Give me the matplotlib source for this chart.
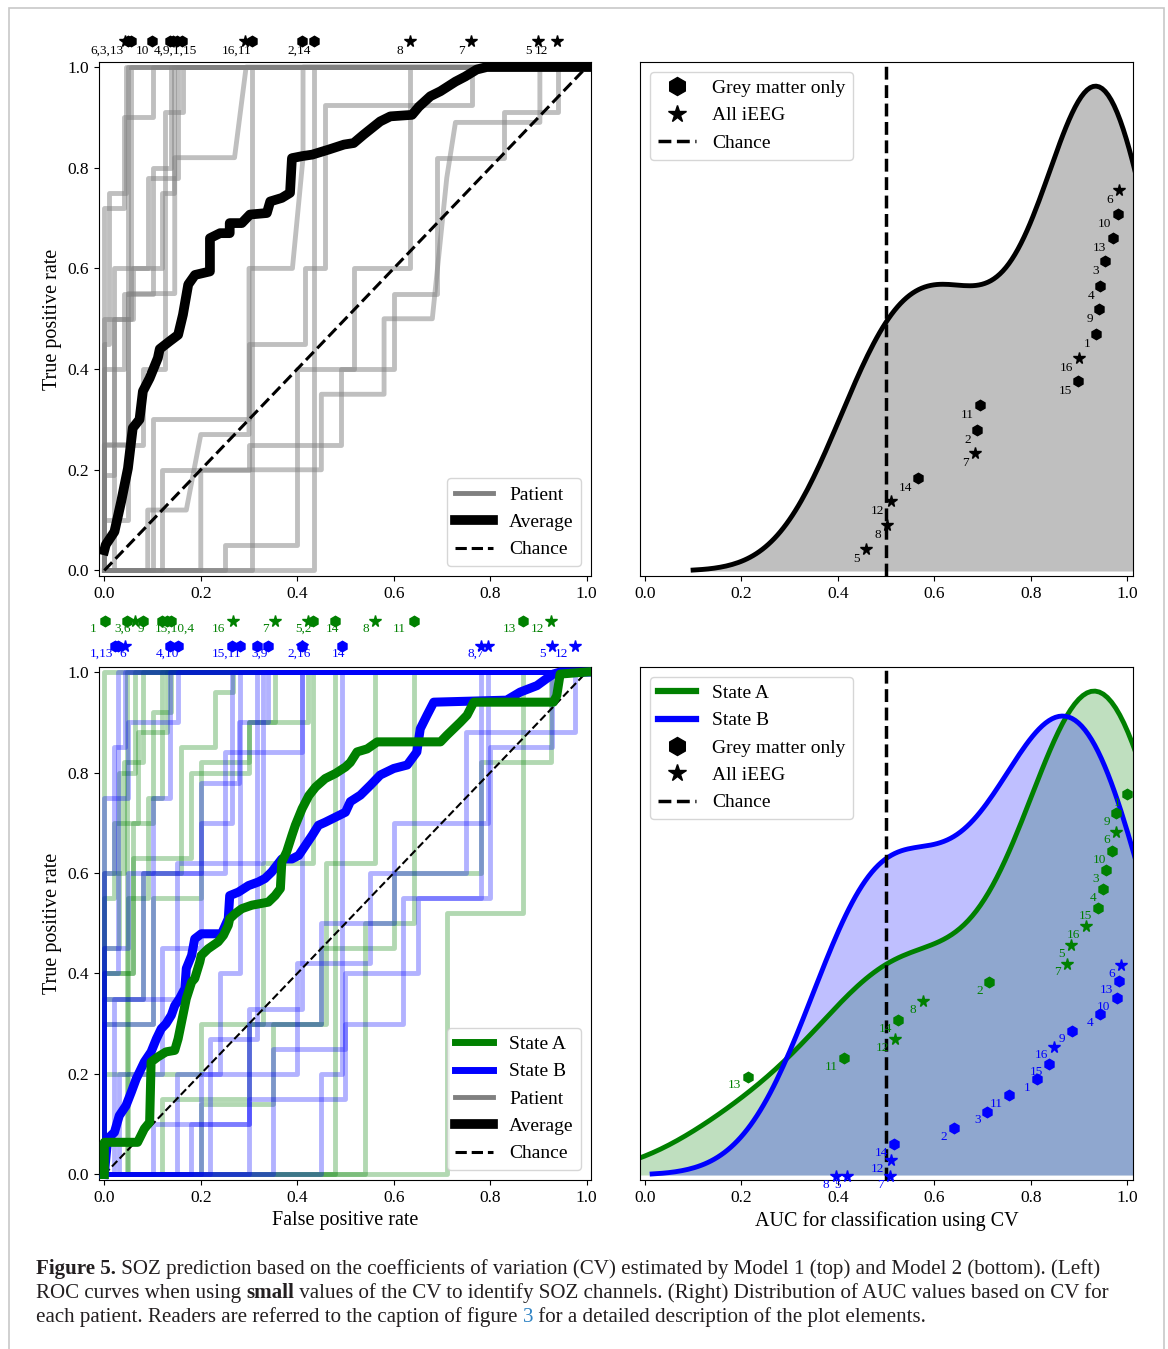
import matplotlib

matplotlib.use("Agg")

import matplotlib.pyplot as plt
import numpy as np
from matplotlib.lines import Line2D
from matplotlib.patches import Rectangle

plt.rcParams["font.family"] = ["Liberation Serif", "DejaVu Serif"]

PATIENTS = list(range(1, 17))
STAR_PATIENTS = [5, 6, 7, 8, 12, 16]  # "All iEEG"; the rest are "Grey matter only"

# ---------------- Model 1 (top row) ----------------
M1_AUC = [0.936, 0.689, 0.954, 0.944, 0.458, 0.983, 0.684, 0.502,
          0.942, 0.980, 0.694, 0.510, 0.970, 0.567, 0.899, 0.901]
M1_LANE = [0.471, 0.285, 0.613, 0.565, 0.053, 0.751, 0.239, 0.100,
           0.519, 0.705, 0.332, 0.146, 0.658, 0.191, 0.379, 0.425]
M1_FULL_FPR = [0.150, 0.410, 0.049, 0.136, 0.900, 0.043, 0.761, 0.634,
               0.142, 0.099, 0.306, 0.939, 0.055, 0.434, 0.161, 0.292]
M1_GROUPS = ["6,3,13", "10", "4,9,1,15", "16,11", "2,14", "8", "7", "5", "12"]
M1_GROUP_X = [0.040, 0.094, 0.193, 0.305, 0.428, 0.619, 0.748, 0.887, 0.920]

M1_AVG_FPR = [0.0, 0.003, 0.021, 0.035, 0.049, 0.059, 0.073, 0.08, 0.094, 0.111,
              0.115, 0.135, 0.153, 0.163, 0.174, 0.188, 0.219, 0.219, 0.24, 0.26,
              0.26, 0.285, 0.302, 0.337, 0.344, 0.368, 0.385, 0.389, 0.41, 0.431,
              0.465, 0.497, 0.517, 0.538, 0.572, 0.593, 0.638, 0.652, 0.676, 0.697,
              0.728, 0.748, 0.772, 0.793, 1.0]
M1_AVG_TPR = [0.04, 0.051, 0.077, 0.137, 0.203, 0.283, 0.30, 0.356, 0.382, 0.422,
              0.44, 0.455, 0.468, 0.508, 0.568, 0.587, 0.594, 0.66, 0.67, 0.67,
              0.69, 0.69, 0.707, 0.71, 0.733, 0.74, 0.75, 0.819, 0.823, 0.826,
              0.836, 0.846, 0.849, 0.866, 0.892, 0.902, 0.905, 0.921, 0.942, 0.952,
              0.971, 0.981, 0.995, 1.0, 1.0]

M1_ROC_FPR = [
    [0, 0, 0.02, 0.02, 0.09, 0.09, 0.153, 0.153, 1],
    [0, 0.09, 0.09, 0.17, 0.2, 0.3, 0.3, 0.39, 0.412, 0.412, 1],
    [0, 0, 0.05, 0.05, 1],
    [0, 0, 0.04, 0.04, 0.1, 0.1, 0.139, 0.139, 1],
    [0, 0.2, 0.2, 0.45, 0.45, 0.58, 0.58, 0.68, 0.71, 0.728, 0.903, 0.903, 1],
    [0, 0, 0.01, 0.01, 0.044, 0.044, 1],
    [0, 0.1, 0.1, 0.3, 0.3, 0.417, 0.417, 0.458, 0.458, 0.762, 0.762, 1],
    [0, 0.25, 0.25, 0.4, 0.4, 0.517, 0.517, 0.634, 0.634, 1],
    [0, 0, 0.06, 0.06, 0.12, 0.12, 0.145, 0.145, 1],
    [0, 0, 0.04, 0.04, 0.101, 0.101, 1],
    [0, 0.306, 0.306, 1],
    [0, 0.12, 0.12, 0.3, 0.3, 0.49, 0.49, 0.6, 0.6, 0.69, 0.69, 0.828, 0.828, 0.941, 0.941, 1],
    [0, 0, 0.02, 0.02, 0.056, 0.056, 1],
    [0, 0.434, 0.434, 1],
    [0, 0.02, 0.02, 0.08, 0.08, 0.125, 0.125, 0.164, 0.164, 1],
    [0, 0, 0.05, 0.05, 0.146, 0.146, 0.27, 0.294, 1],
]
M1_ROC_TPR = [
    [0, 0.19, 0.19, 0.6, 0.6, 0.78, 0.78, 1, 1],
    [0, 0, 0.12, 0.12, 0.27, 0.27, 0.6, 0.6, 0.82, 1, 1],
    [0, 0.1, 0.1, 1, 1],
    [0, 0.4, 0.4, 0.55, 0.55, 0.8, 0.8, 1, 1],
    [0, 0, 0.2, 0.2, 0.35, 0.35, 0.5, 0.5, 0.78, 0.89, 0.89, 1, 1],
    [0, 0.45, 0.45, 0.75, 0.75, 1, 1],
    [0, 0, 0.3, 0.3, 0.45, 0.45, 0.6, 0.6, 0.925, 0.925, 1, 1],
    [0, 0, 0.05, 0.05, 0.4, 0.4, 0.6, 0.6, 1, 1],
    [0, 0.5, 0.5, 0.6, 0.6, 0.75, 0.75, 1, 1],
    [0, 0.72, 0.72, 0.9, 0.9, 1, 1],
    [0, 0, 1, 1],
    [0, 0, 0.2, 0.2, 0.25, 0.25, 0.4, 0.4, 0.55, 0.55, 0.82, 0.82, 0.91, 0.91, 1, 1],
    [0, 0.25, 0.25, 0.5, 0.5, 1, 1],
    [0, 0, 1, 1],
    [0, 0, 0.25, 0.25, 0.4, 0.4, 0.91, 0.91, 1, 1],
    [0, 0.25, 0.25, 0.55, 0.55, 0.82, 0.82, 1, 1],
]

# ---------------- Model 2 (bottom row) ----------------
A_AUC = [1.0, 0.714, 0.955, 0.949, 0.884, 0.977, 0.876, 0.576,
         0.977, 0.969, 0.413, 0.519, 0.213, 0.525, 0.939, 0.915]
A_LANE = [0.752, 0.385, 0.604, 0.567, 0.458, 0.679, 0.422, 0.348,
          0.715, 0.641, 0.237, 0.275, 0.201, 0.312, 0.531, 0.495]
A_FULL_FPR = [0.001, 0.433, 0.048, 0.138, 0.422, 0.063, 0.354, 0.561,
              0.081, 0.129, 0.643, 0.926, 0.868, 0.478, 0.120, 0.266]
A_GROUPS = ["1", "3,6", "9", "15,10,4", "16", "7", "5,2", "14", "8", "11", "13", "12"]
A_GROUP_X = [-0.016, 0.056, 0.083, 0.188, 0.250, 0.340, 0.431, 0.487, 0.549, 0.625, 0.853, 0.912]

B_AUC = [0.812, 0.640, 0.710, 0.943, 0.420, 0.987, 0.509, 0.396,
         0.885, 0.978, 0.754, 0.510, 0.984, 0.517, 0.838, 0.849]
B_LANE = [0.196, 0.101, 0.133, 0.323, 0.008, 0.419, 0.008, 0.008,
          0.291, 0.354, 0.165, 0.039, 0.387, 0.070, 0.227, 0.260]
B_FULL_FPR = [0.023, 0.409, 0.317, 0.136, 0.928, 0.043, 0.796, 0.780,
              0.339, 0.152, 0.281, 0.975, 0.029, 0.492, 0.264, 0.410]
B_GROUPS = ["1,13", "6", "4,10", "15,11", "3,9", "2,16", "14", "8,7", "5", "12"]
B_GROUP_X = [0.018, 0.044, 0.155, 0.285, 0.339, 0.428, 0.499, 0.787, 0.916, 0.961]

A_AVG_FPR = [0.0, 0.0, 0.069, 0.083, 0.094, 0.097, 0.111, 0.128, 0.146, 0.153,
             0.163, 0.17, 0.181, 0.1875, 0.198, 0.201, 0.215, 0.236, 0.247, 0.257,
             0.26, 0.271, 0.285, 0.306, 0.34, 0.354, 0.365, 0.368, 0.378, 0.389,
             0.396, 0.41, 0.424, 0.438, 0.458, 0.479, 0.5, 0.51, 0.524, 0.545,
             0.566, 0.697, 0.71, 0.724, 0.738, 0.752, 0.766, 0.931, 0.938, 0.945, 1.0]
A_AVG_TPR = [0.0, 0.064, 0.064, 0.091, 0.104, 0.224, 0.234, 0.244, 0.247, 0.27,
             0.317, 0.35, 0.383, 0.39, 0.423, 0.436, 0.449, 0.463, 0.476, 0.496,
             0.509, 0.519, 0.529, 0.536, 0.542, 0.555, 0.569, 0.622, 0.642, 0.675,
             0.695, 0.728, 0.754, 0.771, 0.788, 0.798, 0.811, 0.82, 0.841, 0.847,
             0.861, 0.861, 0.874, 0.887, 0.9, 0.914, 0.94, 0.94, 0.953, 0.996, 1.0]
B_AVG_FPR = [0.0, 0.007, 0.021, 0.031, 0.045, 0.056, 0.066, 0.083, 0.097, 0.108,
             0.118, 0.128, 0.139, 0.146, 0.156, 0.167, 0.17, 0.181, 0.1875, 0.201,
             0.243, 0.257, 0.26, 0.278, 0.299, 0.319, 0.333, 0.347, 0.368, 0.389,
             0.403, 0.417, 0.431, 0.444, 0.458, 0.479, 0.5, 0.51, 0.531, 0.552,
             0.572, 0.6, 0.628, 0.648, 0.655, 0.669, 0.683, 0.834, 0.862, 0.897,
             0.917, 0.931, 0.945, 1.0]
B_AVG_TPR = [0.0, 0.071, 0.084, 0.117, 0.137, 0.164, 0.19, 0.224, 0.244, 0.27,
             0.29, 0.30, 0.317, 0.336, 0.35, 0.37, 0.41, 0.436, 0.469, 0.479,
             0.479, 0.509, 0.555, 0.562, 0.575, 0.582, 0.589, 0.602, 0.628, 0.628,
             0.635, 0.655, 0.675, 0.695, 0.701, 0.711, 0.721, 0.742, 0.755, 0.775,
             0.795, 0.808, 0.815, 0.841, 0.887, 0.914, 0.94, 0.944, 0.96, 0.973,
             0.987, 0.996, 1.0, 1.0]

A_ROC_FPR = [
    [0, 0, 1],
    [0, 0.05, 0.05, 0.2, 0.2, 0.33, 0.33, 0.433, 0.433, 1],
    [0, 0.048, 0.048, 1],
    [0, 0, 0.06, 0.06, 0.1, 0.1, 0.138, 0.138, 1],
    [0, 0, 0.06, 0.06, 0.18, 0.18, 0.3, 0.3, 0.422, 0.422, 1],
    [0, 0, 0.03, 0.03, 0.063, 0.063, 1],
    [0, 0, 0.1, 0.1, 0.2, 0.2, 0.3, 0.3, 0.354, 0.354, 1],
    [0, 0.2, 0.2, 0.35, 0.35, 0.46, 0.46, 0.561, 0.561, 1],
    [0, 0, 0.04, 0.04, 0.081, 0.081, 1],
    [0, 0, 0.02, 0.02, 0.07, 0.07, 0.129, 0.129, 1],
    [0, 0.54, 0.54, 0.643, 0.643, 1],
    [0, 0.12, 0.12, 0.3, 0.3, 0.45, 0.45, 0.6, 0.6, 0.78, 0.78, 0.926, 0.926, 1],
    [0, 0.71, 0.71, 0.868, 0.868, 1],
    [0, 0.478, 0.478, 1],
    [0, 0, 0.05, 0.05, 0.09, 0.09, 0.12, 0.12, 1],
    [0, 0, 0.08, 0.08, 0.16, 0.16, 0.23, 0.23, 0.266, 0.266, 1],
]
A_ROC_TPR = [
    [0, 1, 1],
    [0, 0, 0.2, 0.2, 0.3, 0.3, 0.62, 0.62, 1, 1],
    [0, 0, 1, 1],
    [0, 0.4, 0.4, 0.7, 0.7, 0.92, 0.92, 1, 1],
    [0, 0.4, 0.4, 0.63, 0.63, 0.8, 0.8, 0.9, 0.9, 1, 1],
    [0, 0.45, 0.45, 0.8, 0.8, 1, 1],
    [0, 0.3, 0.3, 0.55, 0.55, 0.82, 0.82, 0.9, 0.9, 1, 1],
    [0, 0, 0.14, 0.14, 0.3, 0.3, 0.62, 0.62, 1, 1],
    [0, 0.6, 0.6, 0.82, 0.82, 1, 1],
    [0, 0.55, 0.55, 0.7, 0.7, 0.88, 0.88, 1, 1],
    [0, 0, 0.5, 0.5, 1, 1],
    [0, 0, 0.15, 0.15, 0.3, 0.3, 0.45, 0.45, 0.6, 0.6, 0.82, 0.82, 1, 1],
    [0, 0, 0.52, 0.52, 1, 1],
    [0, 0, 1, 1],
    [0, 0.2, 0.2, 0.55, 0.55, 0.75, 0.75, 1, 1],
    [0, 0.35, 0.35, 0.6, 0.6, 0.85, 0.85, 0.96, 0.96, 1, 1],
]
B_ROC_FPR = [
    [0, 0.02, 0.02, 0.15, 0.15, 0.33, 0.33, 1],
    [0, 0.18, 0.18, 0.3, 0.3, 0.409, 0.409, 1],
    [0, 0.22, 0.22, 0.317, 0.317, 1],
    [0, 0, 0.05, 0.05, 0.1, 0.1, 0.136, 0.136, 1],
    [0, 0.35, 0.35, 0.5, 0.5, 0.65, 0.65, 0.8, 0.8, 0.928, 0.928, 1],
    [0, 0, 0.02, 0.02, 0.043, 0.043, 1],
    [0, 0.1, 0.1, 0.3, 0.3, 0.45, 0.45, 0.6, 0.6, 0.796, 0.796, 1],
    [0, 0.3, 0.3, 0.5, 0.5, 0.62, 0.62, 0.78, 0.78, 1],
    [0, 0, 0.08, 0.08, 0.2, 0.2, 0.28, 0.28, 0.339, 0.339, 1],
    [0, 0, 0.05, 0.05, 0.152, 0.152, 1],
    [0, 0.15, 0.15, 0.24, 0.24, 0.281, 0.281, 1],
    [0, 0.2, 0.2, 0.4, 0.4, 0.55, 0.55, 0.75, 0.75, 0.975, 0.975, 1],
    [0, 0, 0.029, 0.029, 1],
    [0, 0.45, 0.45, 0.492, 0.492, 1],
    [0, 0.03, 0.03, 0.12, 0.12, 0.2, 0.2, 0.264, 0.264, 1],
    [0, 0, 0.1, 0.1, 0.25, 0.25, 0.41, 0.41, 1],
]
B_ROC_TPR = [
    [0, 0, 0.35, 0.35, 0.62, 0.62, 1, 1],
    [0, 0, 0.1, 0.1, 0.33, 0.33, 1, 1],
    [0, 0, 0.27, 0.27, 1, 1],
    [0, 0.45, 0.45, 0.6, 0.6, 0.75, 0.75, 1, 1],
    [0, 0, 0.25, 0.25, 0.4, 0.4, 0.55, 0.55, 0.85, 0.85, 1, 1],
    [0, 0.6, 0.6, 0.85, 0.85, 1, 1],
    [0, 0, 0.1, 0.1, 0.3, 0.3, 0.5, 0.5, 0.7, 0.7, 1, 1],
    [0, 0, 0.15, 0.15, 0.3, 0.3, 0.55, 0.55, 1, 1],
    [0, 0.35, 0.35, 0.6, 0.6, 0.78, 0.78, 0.9, 0.9, 1, 1],
    [0, 0.75, 0.75, 0.9, 0.9, 1, 1],
    [0, 0, 0.2, 0.2, 0.4, 0.4, 1, 1],
    [0, 0, 0.2, 0.2, 0.42, 0.42, 0.6, 0.6, 0.88, 0.88, 1, 1],
    [0, 0.4, 0.4, 1, 1],
    [0, 0, 0.2, 0.2, 1, 1],
    [0, 0, 0.2, 0.2, 0.45, 0.45, 0.7, 0.7, 1, 1],
    [0, 0.3, 0.3, 0.6, 0.6, 0.84, 0.84, 1, 1],
]

GREEN = "green"
BLUE = "blue"
TICK_FS = 12.5
LABEL_FS = 14.5
LEGEND_FS = 14
NUM_FS = 9.5


def kde(values, gridsize=200, cut=3):
    # gaussian KDE with Silverman's bandwidth, evaluated on a seaborn-like grid
    v = np.asarray(values, dtype=float)
    n = len(v)
    bw = (n * 3 / 4) ** (-1 / 5) * v.std(ddof=1)
    grid = np.linspace(v.min() - cut * bw, v.max() + cut * bw, gridsize)
    dens = np.exp(-0.5 * ((grid[:, None] - v[None, :]) / bw) ** 2).sum(axis=1)
    return grid, dens / (n * bw * np.sqrt(2 * np.pi))


def marker_for(patient):
    return ("*", 8.5) if patient in STAR_PATIENTS else ("h", 7.5)


def style_roc_axes(ax):
    ax.set_xlim(-0.011, 1.009)
    ax.set_ylim(-0.011, 1.01)
    ax.set_xticks(np.arange(0, 1.01, 0.2))
    ax.set_yticks(np.arange(0, 1.01, 0.2))
    ax.tick_params(labelsize=TICK_FS)
    ax.set_ylabel("True positive rate", fontsize=LABEL_FS)


def style_auc_axes(ax):
    ax.set_xlim(-0.01, 1.012)
    ax.set_xticks(np.arange(0, 1.01, 0.2))
    ax.set_yticks([])
    ax.tick_params(labelsize=TICK_FS)


def top_markers(ax, full_fpr, y, color):
    for p, x in zip(PATIENTS, full_fpr):
        m, ms = marker_for(p)
        ax.plot([x], [y], ls="none", marker=m, ms=ms, color=color, clip_on=False, zorder=6)


def top_labels(ax, groups, xs, y, color):
    for text, x in zip(groups, xs):
        ax.text(x, y, text, ha="right", va="center", fontsize=NUM_FS, color=color, clip_on=False)


def auc_markers(ax, aucs, lanes, color, dy):
    trans = ax.get_xaxis_transform()
    for p, a, lane in zip(PATIENTS, aucs, lanes):
        m, ms = marker_for(p)
        ax.plot([a], [lane], ls="none", marker=m, ms=ms, color=color, transform=trans,
                clip_on=False, zorder=6)
        ax.annotate(str(p), xy=(a, lane), xycoords=trans, xytext=(-4.5, dy),
                    textcoords="offset points", ha="right", va="center",
                    fontsize=NUM_FS, color=color, zorder=6)


fig = plt.figure(figsize=(11.68, 13.49), dpi=100)
W, H = 1168, 1349
ax_tl = fig.add_axes([99 / W, 1 - 576 / H, 492 / W, 514 / H])
ax_tr = fig.add_axes([640 / W, 1 - 576 / H, 493 / W, 514 / H])
ax_bl = fig.add_axes([99 / W, 1 - 1180 / H, 492 / W, 513 / H])
ax_br = fig.add_axes([640 / W, 1 - 1180 / H, 493 / W, 513 / H])

# ---- top left: ROC, model 1 ----
for fpr, tpr in zip(M1_ROC_FPR, M1_ROC_TPR):
    ax_tl.plot(fpr, tpr, color="grey", alpha=0.5, lw=3.5)
ax_tl.plot([0, 1], [0, 1], color="k", ls="--", lw=2.2, zorder=4)
ax_tl.plot(M1_AVG_FPR, M1_AVG_TPR, color="k", lw=7, solid_joinstyle="round", zorder=5)
style_roc_axes(ax_tl)
top_markers(ax_tl, M1_FULL_FPR, 1.052, "k")
top_labels(ax_tl, M1_GROUPS, M1_GROUP_X, 1.032, "k")
ax_tl.legend(
    [Line2D([], [], color="grey", lw=3.5), Line2D([], [], color="k", lw=7),
     Line2D([], [], color="k", ls="--", lw=2.2)],
    ["Patient", "Average", "Chance"], loc="lower right", fontsize=LEGEND_FS,
)

# ---- top right: AUC distribution, model 1 ----
gx, gd = kde(M1_AUC)
ax_tr.fill_between(gx, 0, gd, color="k", alpha=0.25, lw=0)
ax_tr.plot(gx, gd, color="k", lw=3.5)
ax_tr.axvline(0.5, color="k", ls="--", lw=2.5, zorder=4)
ax_tr.set_ylim(-0.0103 * gd.max(), 1.0498 * gd.max())
style_auc_axes(ax_tr)
auc_markers(ax_tr, M1_AUC, M1_LANE, "k", -7.2)
ax_tr.legend(
    [Line2D([], [], ls="none", marker="h", ms=13, color="k"),
     Line2D([], [], ls="none", marker="*", ms=13, color="k"),
     Line2D([], [], color="k", ls="--", lw=2.5)],
    ["Grey matter only", "All iEEG", "Chance"], loc="upper left", fontsize=LEGEND_FS,
)

# ---- bottom left: ROC, model 2 ----
for fpr, tpr in zip(A_ROC_FPR, A_ROC_TPR):
    ax_bl.plot(fpr, tpr, color=GREEN, alpha=0.3, lw=3.5)
for fpr, tpr in zip(B_ROC_FPR, B_ROC_TPR):
    ax_bl.plot(fpr, tpr, color=BLUE, alpha=0.3, lw=3.5)
ax_bl.plot([0, 1], [0, 1], color="k", ls="--", lw=1.5, zorder=4)
ax_bl.plot(B_AVG_FPR, B_AVG_TPR, color=BLUE, lw=6.5, solid_joinstyle="round", zorder=5)
ax_bl.plot(A_AVG_FPR, A_AVG_TPR, color=GREEN, lw=6.5, solid_joinstyle="round", zorder=5)
style_roc_axes(ax_bl)
ax_bl.set_xlabel("False positive rate", fontsize=LABEL_FS)
top_markers(ax_bl, A_FULL_FPR, 1.102, GREEN)
top_labels(ax_bl, A_GROUPS, A_GROUP_X, 1.086, GREEN)
top_markers(ax_bl, B_FULL_FPR, 1.052, BLUE)
top_labels(ax_bl, B_GROUPS, B_GROUP_X, 1.036, BLUE)
ax_bl.legend(
    [Line2D([], [], color=GREEN, lw=5), Line2D([], [], color=BLUE, lw=5),
     Line2D([], [], color="grey", lw=3.5), Line2D([], [], color="k", lw=7),
     Line2D([], [], color="k", ls="--", lw=2.2)],
    ["State A", "State B", "Patient", "Average", "Chance"],
    loc="lower right", fontsize=LEGEND_FS,
)

# ---- bottom right: AUC distribution, model 2 ----
ax_, ad = kde(A_AUC)
bx_, bd = kde(B_AUC)
ax_br.fill_between(ax_, 0, ad, color=GREEN, alpha=0.25, lw=0)
ax_br.fill_between(bx_, 0, bd, color=BLUE, alpha=0.25, lw=0)
ax_br.plot(ax_, ad, color=GREEN, lw=3.5)
ax_br.plot(bx_, bd, color=BLUE, lw=3.5)
ax_br.axvline(0.5, color="k", ls="--", lw=2.5, zorder=4)
top = max(ad.max(), bd.max())
ax_br.set_ylim(-0.0103 * top, 1.0498 * top)
style_auc_axes(ax_br)
ax_br.set_xlabel("AUC for classification using CV", fontsize=LABEL_FS)
auc_markers(ax_br, A_AUC, A_LANE, GREEN, -6.2)
auc_markers(ax_br, B_AUC, B_LANE, BLUE, -6.2)
ax_br.legend(
    [Line2D([], [], color=GREEN, lw=4.5), Line2D([], [], color=BLUE, lw=4.5),
     Line2D([], [], ls="none", marker="h", ms=13, color="k"),
     Line2D([], [], ls="none", marker="*", ms=13, color="k"),
     Line2D([], [], color="k", ls="--", lw=2.5)],
    ["State A", "State B", "Grey matter only", "All iEEG", "Chance"],
    loc="upper left", fontsize=LEGEND_FS,
)

# ---- caption ----
cap = fig.add_axes([0, 0, 1, 1], zorder=-1)
cap.set_axis_off()
CAP_FS = 15.1
CAP_COLOR = "#231f20"


def caption_line(y, parts):
    t = None
    for text, weight, color in parts:
        if t is None:
            t = cap.text(36 / W, y, text, transform=fig.transFigure, fontsize=CAP_FS,
                         fontweight=weight, color=color, ha="left", va="baseline")
        else:
            t = cap.annotate(text, xy=(1, 0), xycoords=t, fontsize=CAP_FS,
                             fontweight=weight, color=color, ha="left", va="bottom")


caption_line(1 - 1274 / H, [
    ("Figure 5.", "bold", CAP_COLOR),
    (" SOZ prediction based on the coefficients of variation (CV) estimated by Model 1 "
     "(top) and Model 2 (bottom). (Left)", "normal", CAP_COLOR),
])
caption_line(1 - 1298 / H, [
    ("ROC curves when using ", "normal", CAP_COLOR),
    ("small", "bold", CAP_COLOR),
    (" values of the CV to identify SOZ channels. (Right) Distribution of AUC values "
     "based on CV for", "normal", CAP_COLOR),
])
caption_line(1 - 1322 / H, [
    ("each patient. Readers are referred to the caption of figure ", "normal", CAP_COLOR),
    ("3", "normal", "#2d82c3"),
    (" for a detailed description of the plot elements.", "normal", CAP_COLOR),
])

fig.add_artist(Rectangle((9 / W, -0.05), (1164 - 9) / W, 1.05 - 8 / H,
                         transform=fig.transFigure, fill=False,
                         edgecolor="#c8c8c8", lw=1.2))

fig.savefig("out.png", dpi=100)
